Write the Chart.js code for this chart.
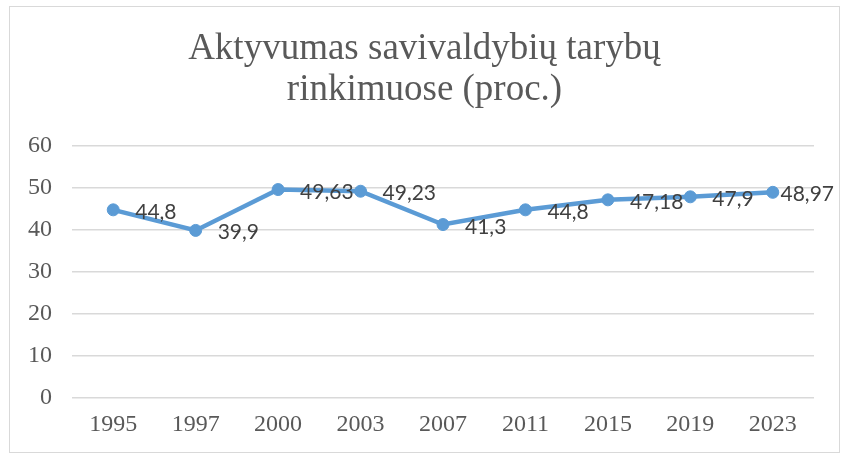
<!DOCTYPE html>
<html>
<head>
<meta charset="utf-8">
<script src="https://cdn.jsdelivr.net/npm/chart.js@4"></script>
<style>
    body { margin: 0; background: #fff; }
    #box {
        position: absolute;
        left: 9px; top: 6px;
        width: 829px; height: 445px;
        border: 1px solid #d9d9d9;
        background: #fff;
    }
</style>
</head>
<body>
<div id="box"><canvas id="chart"></canvas></div>
<script>
// Duomenys
const metai = ['1995', '1997', '2000', '2003', '2007', '2011', '2015', '2019', '2023'];
const aktyvumas = [44.8, 39.9, 49.63, 49.23, 41.3, 44.8, 47.18, 47.9, 48.97];
const pavadinimas = ['Aktyvumas savivaldybių tarybų', 'rinkimuose (proc.)'];

// Reikšmės dešinėje nuo taškų (paskutinė pastumiama, kad tilptų)
const reiksmiuEtiketes = {
    id: 'reiksmiuEtiketes',
    afterDatasetsDraw(chart) {
        const ctx = chart.ctx;
        const meta = chart.getDatasetMeta(0);
        ctx.save();
        ctx.font = '21px Lato';
        ctx.fillStyle = '#404040';
        ctx.textAlign = 'left';
        ctx.textBaseline = 'alphabetic';
        meta.data.forEach((pt, i) => {
            const tekstas = String(aktyvumas[i]).replace('.', ',');
            const plotis = ctx.measureText(tekstas).width;
            const x = Math.min(pt.x + 22, chart.width - 5 - plotis);
            ctx.fillText(tekstas, x, pt.y + 9);
        });
        ctx.restore();
    }
};

new Chart(document.getElementById('chart'), {
    type: 'line',
    data: {
        labels: metai,
        datasets: [{
            data: aktyvumas,
            borderColor: '#5b9bd5',
            backgroundColor: '#5b9bd5',
            borderWidth: 4.5,
            pointRadius: 6,
            pointBorderWidth: 1,
            pointBackgroundColor: '#5b9bd5',
            pointBorderColor: '#5b9bd5',
            tension: 0
        }]
    },
    options: {
        responsive: true,
        maintainAspectRatio: false,
        animation: false,
        layout: {
            padding: { left: 18, right: 18, top: 0, bottom: 0 }
        },
        plugins: {
            legend: { display: false },
            tooltip: { enabled: false },
            title: {
                display: true,
                text: pavadinimas,
                color: '#595959',
                font: { family: 'Liberation Serif', size: 37, weight: 'normal', lineHeight: 41 / 37 },
                padding: { top: 22, bottom: 35 }
            }
        },
        scales: {
            x: {
                offset: true,
                grid: { display: false, drawTicks: false },
                border: { display: false },
                ticks: {
                    color: '#595959',
                    padding: 12,
                    maxRotation: 0,
                    font: { family: 'Liberation Serif', size: 24, lineHeight: 1.25 }
                }
            },
            y: {
                min: 0,
                max: 60,
                afterFit(scale) {
                    scale.width = 44;
                },
                ticks: {
                    stepSize: 10,
                    color: '#595959',
                    padding: 20,
                    font: { family: 'Liberation Serif', size: 24 }
                },
                grid: { color: '#d9d9d9', lineWidth: 1.5, drawTicks: false },
                border: { display: false }
            },
            // tuščia ašis dešinėje, kad brėžinio plotas baigtųsi kaip originale
            y2: {
                position: 'right',
                min: 0,
                max: 60,
                afterFit(scale) {
                    scale.width = 7;
                },
                ticks: { display: false },
                grid: { display: false, drawTicks: false },
                border: { display: false }
            }
        }
    },
    plugins: [reiksmiuEtiketes]
});
</script>
</body>
</html>
